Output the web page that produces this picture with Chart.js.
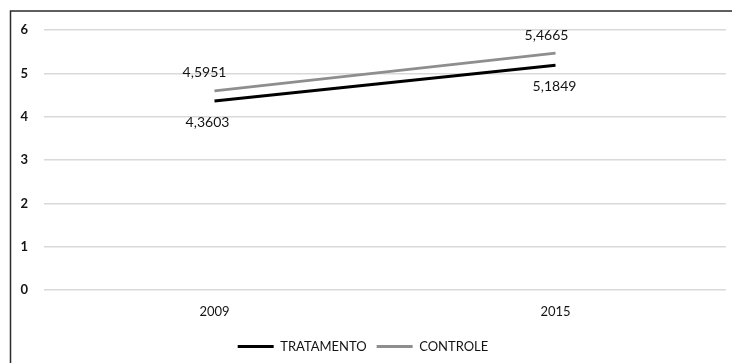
<!DOCTYPE html>
<html>
<head>
<meta charset="utf-8">
<script src="https://cdn.jsdelivr.net/npm/chart.js@4/dist/chart.umd.min.js"></script>
<style>
  html, body { margin: 0; padding: 0; background: #fff; }
  #wrap { position: relative; width: 732px; height: 363px; }
</style>
</head>
<body>
<div id="wrap"><canvas id="c" width="732" height="363"></canvas></div>
<script>
// Anos avaliados e médias de cada grupo
const categories = ['2009', '2015'];
const tratamento = [4.3603, 5.1849];
const controle = [4.5951, 5.4665];
const yTicks = [0, 1, 2, 3, 4, 5, 6];

const FONT = 'Lato, "Open Sans", "Liberation Sans", sans-serif';
const TEXT = '#141414';

// Rótulos de valor: CONTROLE acima da linha, TRATAMENTO abaixo
const labelPlacement = {
  0: { dy: -18, dx: [-10, -9] },
  1: { dy: 21, dx: [-7, -1] }
};

const valueLabels = {
  id: 'valueLabels',
  afterDatasetsDraw(chart) {
    const ctx = chart.ctx;
    const x = chart.scales.x, y = chart.scales.y;
    ctx.save();
    ctx.font = '14px ' + FONT;
    ctx.fillStyle = TEXT;
    ctx.textAlign = 'center';
    ctx.textBaseline = 'middle';
    chart.data.datasets.forEach((ds, di) => {
      const p = labelPlacement[di];
      ds.data.forEach((v, i) => {
        const px = x.getPixelForValue(i) + p.dx[i];
        const py = y.getPixelForValue(v) + p.dy;
        ctx.fillText(String(v).replace('.', ','), px, py);
      });
    });
    ctx.restore();
  }
};

// Moldura do gráfico (topo e lado esquerdo)
const frame = {
  id: 'frame',
  afterDraw(chart) {
    const ctx = chart.ctx;
    ctx.save();
    ctx.strokeStyle = '#2b2b2b';
    ctx.lineWidth = 1.5;
    ctx.beginPath();
    ctx.moveTo(10.5, 363);
    ctx.lineTo(10.5, 11);
    ctx.lineTo(732, 11);
    ctx.stroke();
    ctx.restore();
  }
};

new Chart(document.getElementById('c'), {
  type: 'line',
  data: {
    labels: categories,
    datasets: [
      {
        label: 'CONTROLE',
        data: controle,
        borderColor: '#8e8e8e',
        backgroundColor: '#8e8e8e',
        borderWidth: 3,
        pointRadius: 0,
        tension: 0
      },
      {
        label: 'TRATAMENTO',
        data: tratamento,
        borderColor: '#000000',
        backgroundColor: '#000000',
        borderWidth: 3,
        pointRadius: 0,
        tension: 0
      }
    ]
  },
  options: {
    responsive: false,
    animation: false,
    layout: { padding: { left: 0, right: 6, top: 30, bottom: 0 } },
    plugins: {
      tooltip: { enabled: false },
      legend: {
        position: 'bottom',
        reverse: true,
        labels: {
          boxWidth: 36,
          boxHeight: 3,
          padding: 10,
          color: TEXT,
          font: { family: FONT, size: 13 },
          generateLabels(chart) {
            return chart.data.datasets.map((ds, i) => ({
              text: ds.label,
              fillStyle: ds.borderColor,
              strokeStyle: ds.borderColor,
              lineWidth: 0,
              hidden: false,
              datasetIndex: i,
              fontColor: TEXT
            }));
          }
        }
      }
    },
    scales: {
      x: {
        offset: true,
        grid: { display: false, drawTicks: false },
        border: { display: false },
        ticks: { color: TEXT, font: { family: FONT, size: 13 }, padding: 14 },
        afterFit(scale) { scale.height = 40; }
      },
      y: {
        min: 0,
        max: 6,
        afterBuildTicks(scale) { scale.ticks = yTicks.map(v => ({ value: v })); },
        grid: { color: '#d9d9d9', lineWidth: 1.5, drawTicks: false },
        border: { display: false },
        ticks: { color: TEXT, font: { family: FONT, size: 13, weight: 'bold' }, padding: 16 },
        afterFit(scale) { scale.width = 44; }
      }
    }
  },
  plugins: [valueLabels, frame]
});
</script>
</body>
</html>
